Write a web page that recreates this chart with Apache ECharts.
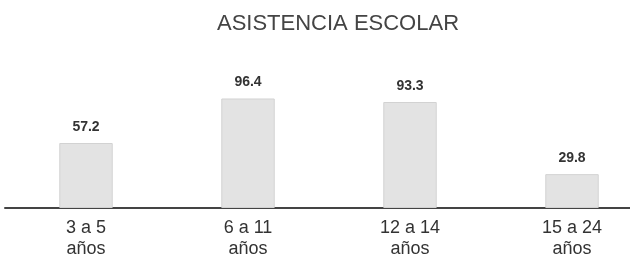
<!DOCTYPE html>
<html>
<head>
<meta charset="utf-8">
<script src="https://cdn.jsdelivr.net/npm/echarts@6/dist/echarts.min.js"></script>
<style>
  html, body { margin: 0; padding: 0; background: #fff; overflow: hidden; }
  #chart { width: 653px; height: 260px; }
</style>
</head>
<body>
<div id="chart"></div>
<script>
// datos
var categorias = ['3 a 5\naños', '6 a 11\naños', '12 a 14\naños', '15 a 24\naños'];
var asistencia = [57.2, 96.4, 93.3, 29.8];

// el lienzo es algo mas ancho que la ventana: la ultima categoria queda cortada como en el original
var chart = echarts.init(document.getElementById('chart'));

var option = {
  backgroundColor: '#ffffff',
  animation: false,
  title: {
    text: 'ASISTENCIA ESCOLAR',
    left: 333,
    textAlign: 'center',
    top: 8,
    textStyle: {
      fontFamily: 'Liberation Sans, Arial',
      fontSize: 22,
      fontWeight: 'normal',
      color: '#444'
    }
  },
  grid: {
    left: 5,
    right: 0,
    top: 94.4,
    bottom: 52
  },
  xAxis: {
    type: 'category',
    data: categorias,
    axisLine: { lineStyle: { color: '#444', width: 2 } },
    axisTick: { show: false },
    axisLabel: {
      color: '#333',
      fontFamily: 'Liberation Sans, Arial',
      fontSize: 18,
      lineHeight: 21,
      margin: 10
    }
  },
  yAxis: {
    type: 'value',
    min: 0,
    max: 100,
    show: false
  },
  series: [{
    type: 'bar',
    data: asistencia,
    barWidth: '33%',
    itemStyle: {
      color: '#e3e3e3',
      borderColor: '#d2d2d2',
      borderWidth: 1
    },
    label: {
      show: true,
      position: 'top',
      distance: 9,
      color: '#333',
      fontFamily: 'Liberation Sans, Arial',
      fontSize: 14,
      fontWeight: 'bold'
    }
  }]
};

chart.setOption(option);
</script>
</body>
</html>
